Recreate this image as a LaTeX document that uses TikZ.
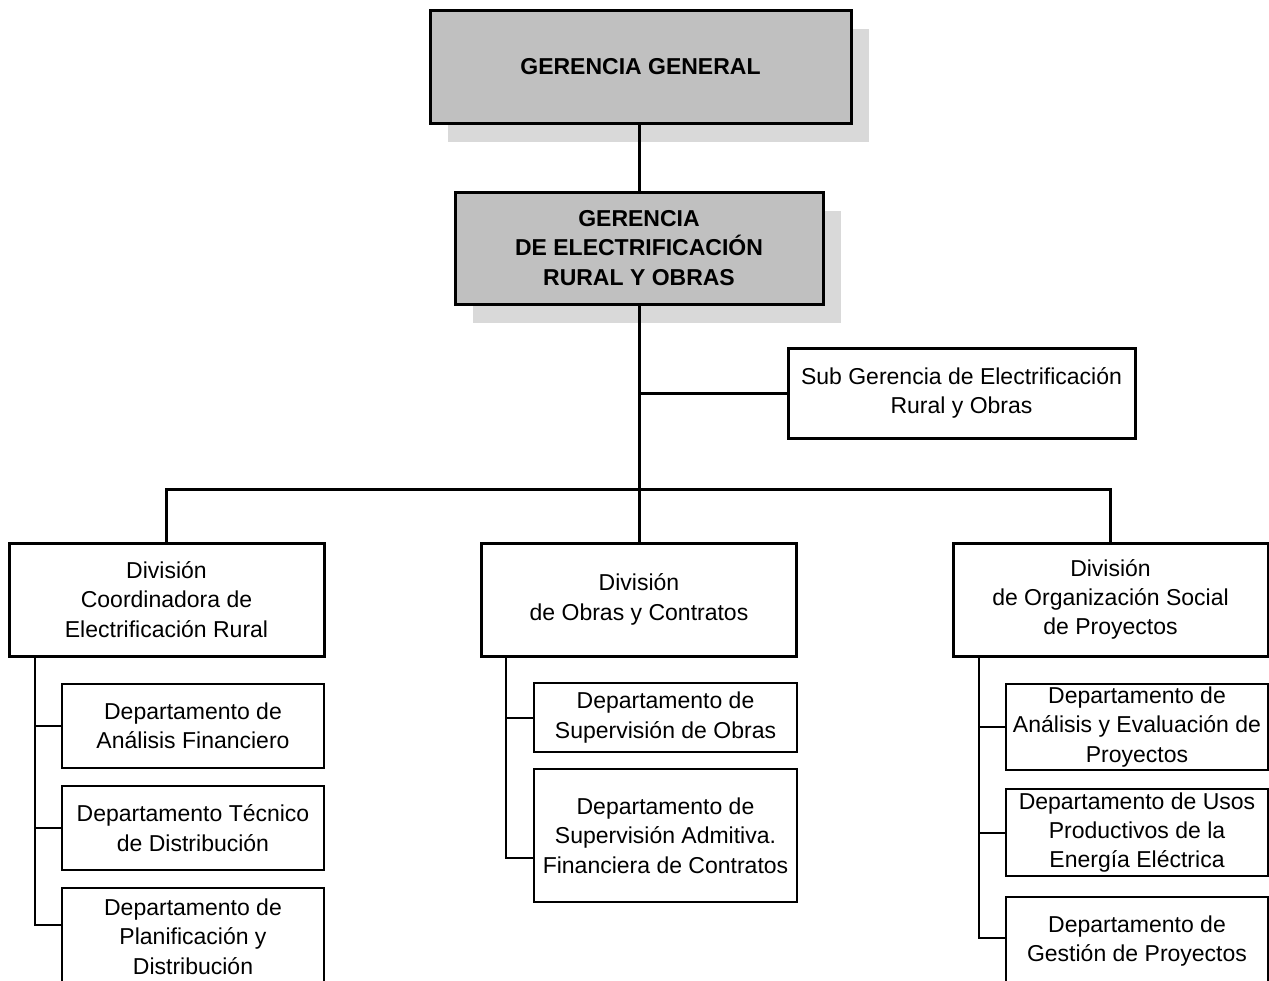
\documentclass[tikz,border=0pt]{standalone}
\usepackage{fontspec}
\setmainfont{Liberation Sans}
\usetikzlibrary{shadows}
\definecolor{boxgray}{HTML}{C0C0C0}
\definecolor{shadowgray}{HTML}{D9D9D9}
\tikzset{
  every node/.style={font=\fontsize{11.5}{14.7}\selectfont, align=center, inner sep=0pt},
  gerbox/.style={draw, line width=1.5pt, fill=boxgray,
    font=\fontsize{11.5}{14.7}\selectfont\bfseries,
    drop shadow={shadow xshift=9pt, shadow yshift=-9.5pt, fill=shadowgray, opacity=1}},
  divbox/.style={draw, line width=1.5pt, fill=white, minimum width=157.5pt, minimum height=56.5pt},
  depbox/.style={draw, line width=1pt, fill=white},
  link/.style={line width=1.5pt},
  sublink/.style={line width=1pt}
}

\begin{document}
\begin{tikzpicture}[x=0.5pt, y=-0.5pt]

\useasboundingbox (0,0) rectangle (1269,980); %% page size

%% gerencias
\node[gerbox, minimum width=210.5pt, minimum height=56.5pt] (gg) at (640.5,66.5)
  {GERENCIA GENERAL};
\node[gerbox, minimum width=184pt, minimum height=56pt] (ger) at (639,248)
  {GERENCIA\\ DE ELECTRIFICACIÓN\\ RURAL Y OBRAS};
\node[divbox, minimum width=173.5pt, minimum height=45pt] (sub) at (961.5,393)
  {Sub Gerencia de Electrificación\\ Rural y Obras};

%% divisiones
\node[divbox] (divL) at (166.5,599.5) {División\\ Coordinadora de\\ Electrificación Rural};
\node[divbox] (divM) at (639,599.5) {División\\ de Obras y Contratos};
\node[divbox] (divR) at (1110.5,599.5) {División\\ de Organización Social\\ de Proyectos};

%% departamentos
\node[depbox, minimum width=131pt, minimum height=42pt] (depL1) at (193,726)
  {Departamento de\\ Análisis Financiero};
\node[depbox, minimum width=131pt, minimum height=42pt] (depL2) at (193,828)
  {Departamento Técnico\\ de Distribución};
\node[depbox, minimum width=131pt, minimum height=48.5pt] (depL3) at (193,936.5)
  {Departamento de\\ Planificación y\\ Distribución};

\node[depbox, minimum width=131.5pt, minimum height=34.5pt] (depM1) at (665.5,717.5)
  {Departamento de\\ Supervisión de Obras};
\node[depbox, minimum width=131.5pt, minimum height=66.5pt] (depM2) at (665.5,835.5)
  {Departamento de\\ Supervisión Admitiva.\\ Financiera de Contratos};

\node[depbox, minimum width=131pt, minimum height=43pt] (depR1) at (1137,727)
  {Departamento de\\ Análisis y Evaluación de\\ Proyectos};
\node[depbox, minimum width=131pt, minimum height=43.5pt] (depR2) at (1137,832.5)
  {Departamento de Usos\\ Productivos de la\\ Energía Eléctrica};
\node[depbox, minimum width=131pt, minimum height=44pt] (depR3) at (1137,941)
  {Departamento de\\ Gestión de Proyectos};

%% lineas
\coordinate (bus) at (639,489);
\draw[link] (ger.north) -- (ger.north |- gg.south);
\draw[link] (ger.south) -- (divM.north);
\draw[link] (sub.west) -- (sub.west -| ger.south);
\draw[link] (divL.north) |- (bus) -| (divR.north);

\coordinate (spineL) at ([xshift=13.5pt]divL.south west);
\coordinate (spineM) at ([xshift=13pt]divM.south west);
\coordinate (spineR) at ([xshift=13.5pt]divR.south west);

\draw[sublink] (spineL) |- ([yshift=-19pt]depL3.north west);
\draw[sublink] (depL1.west) -- (depL1.west -| spineL);
\draw[sublink] (depL2.west) -- (depL2.west -| spineL);

\draw[sublink] (spineM) |- ([yshift=-11.25pt]depM2.west);
\draw[sublink] (depM1.west) -- (depM1.west -| spineM);

\draw[sublink] (spineR) |- ([yshift=1.5pt]depR3.west);
\draw[sublink] (depR1.west) -- (depR1.west -| spineR);
\draw[sublink] (depR2.west) -- (depR2.west -| spineR);

\end{tikzpicture}
\end{document}
